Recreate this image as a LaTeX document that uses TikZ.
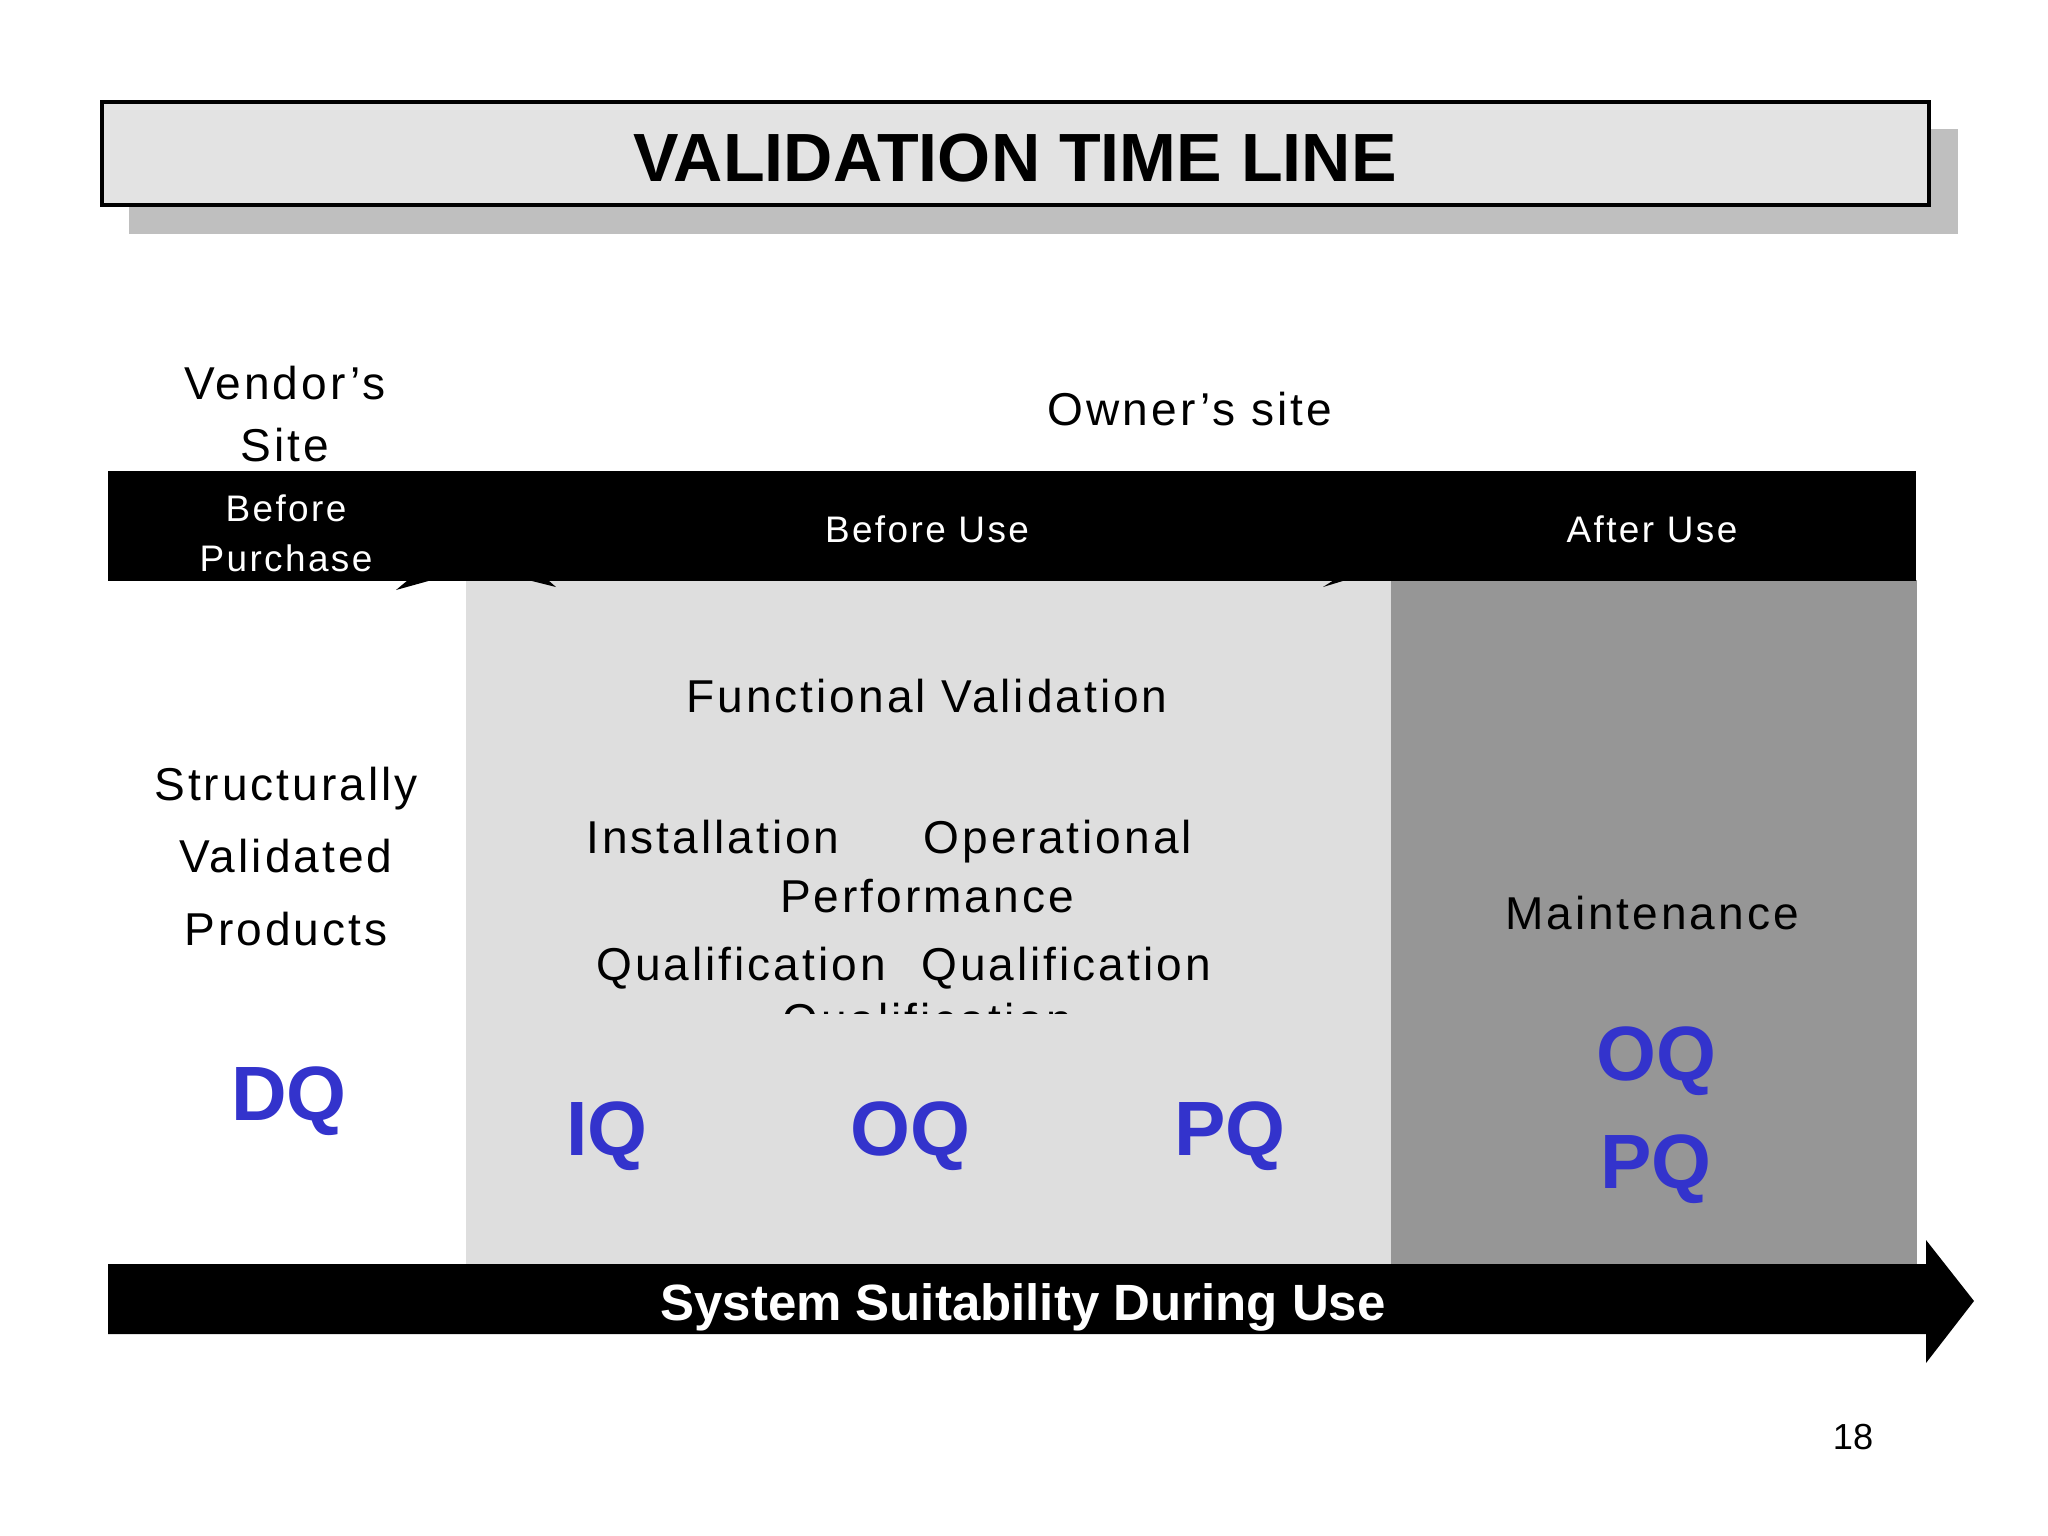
\documentclass[tikz,border=0pt]{standalone}
\usepackage{fontspec}
\setmainfont{Liberation Sans}
\newfontfamily\lsfont[LetterSpace=6.5]{Liberation Sans}
\definecolor{qblue}{HTML}{3333CC}
\definecolor{lightarea}{HTML}{DEDEDE}
\definecolor{darkarea}{HTML}{969696}
\definecolor{titlefill}{HTML}{E3E3E3}
\definecolor{shadowgray}{HTML}{BFBFBF}
\begin{document}
\begin{tikzpicture}[x=0.01cm,y=-0.01cm,
  body/.style={font=\lsfont\fontsize{13.1pt}{15pt}\selectfont,inner sep=0pt,anchor=base},
  bartext/.style={font=\lsfont\fontsize{10.5pt}{12pt}\selectfont,text=white,inner sep=0pt,anchor=base},
  bigq/.style={font=\bfseries\fontsize{21.9pt}{24pt}\selectfont,text=qblue,inner sep=0pt,anchor=base},
]
\useasboundingbox[fill=white] (0,0) rectangle (2048,1536);
% title
\fill[shadowgray] (129,129) rectangle (1958,234);
\draw[fill=titlefill,line width=1pt] (102,102) rectangle (1929,205);
\node[inner sep=0pt,anchor=base,font=\bfseries\fontsize{19.4pt}{22pt}\selectfont] (title) at (1015,181) {VALIDATION TIME LINE};
% site labels
\node[body] (vendor1) at (285,399) {Vendor’s};
\node[body] (vendor2) at (285,461) {Site};
\node[body] (owner) at (1190,425) {Owner’s site};
% areas
\fill[lightarea] (466,580) rectangle (1391,1264);
\fill[darkarea] (1391,580) rectangle (1917,1264);
% black bar
\fill[black] (108,471) rectangle (1916,581);
\fill[black] (396,590) -- (432,580) -- (408,580) -- cycle;
\fill[black] (528,580) -- (556,587) -- (548,580) -- cycle;
\fill[black] (1323,587) -- (1346,580) -- (1334,580) -- cycle;
\node[bartext] (bp1) at (286,521) {Before};
\node[bartext] (bp2) at (286,571) {Purchase};
\node[bartext] (bu) at (927,542) {Before Use};
\node[bartext] (au) at (1652,542) {After Use};
% left column
\node[body] (s1) at (286,800) {Structurally};
\node[body] (s2) at (286,872) {Validated};
\node[body] (s3) at (286,945) {Products};
\node[bigq] (dq) at (289,1120) {DQ};
% middle
\node[body] (fv) at (927,712) {Functional Validation};
\node[body] (inst) at (713,853) {Installation};
\node[body] (oper) at (1058,853) {Operational};
\node[body] (perf) at (927,912) {Performance};
\node[body] (q1) at (741,980) {Qualification};
\node[body] (q2) at (1066,980) {Qualification};
\begin{scope}
\clip (466,990) rectangle (1391,1013);
\node[body] (q3) at (927,1036) {Qualification};
\end{scope}
\node[bigq] (iq) at (607,1155) {IQ};
\node[bigq] (oq) at (910,1155) {OQ};
\node[bigq] (pq) at (1230,1155) {PQ};
% right
\node[body] (maint) at (1652,929) {Maintenance};
\node[bigq] (oq2) at (1656,1080) {OQ};
\node[bigq] (pq2) at (1656,1188) {PQ};
% bottom arrow
\fill[black] (108,1264) -- (1926,1264) -- (1926,1240) -- (1974,1301) -- (1926,1363) -- (1926,1334) -- (108,1334) -- cycle;
\node[inner sep=0pt,anchor=base,text=white,font=\bfseries\fontsize{14.5pt}{17pt}\selectfont] (ssu) at (1023,1320) {System Suitability During Use};
% page number
\node[inner sep=0pt,anchor=base,font=\fontsize{10.3pt}{12pt}\selectfont] (pagenum) at (1853,1449) {18};
\end{tikzpicture}
\end{document}
